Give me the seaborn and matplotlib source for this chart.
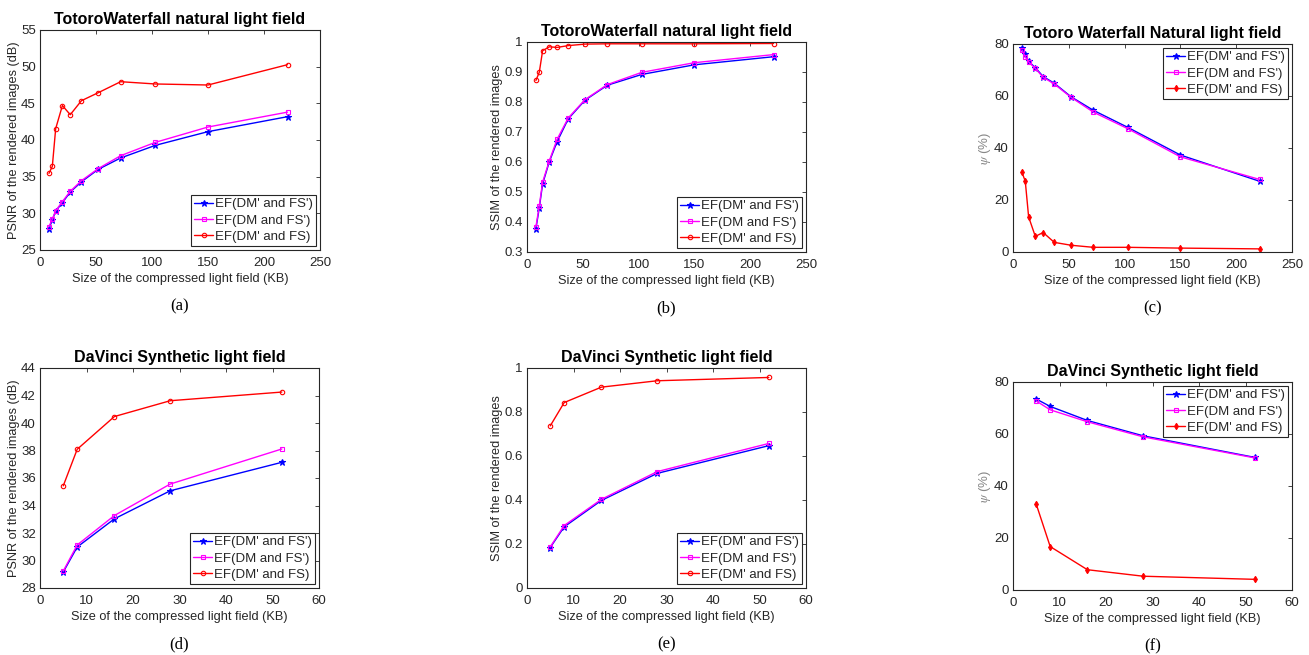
import matplotlib
matplotlib.use("Agg")
import matplotlib.pyplot as plt
import seaborn as sns
import pandas as pd

# ---------------- data ----------------
x_totoro = [8, 11, 14, 20, 27, 37, 52, 72, 103, 150, 221]
x_davinci = [5, 8, 16, 28, 52]

series_names = ["EF(DM' and FS')", "EF(DM and FS')", "EF(DM' and FS)"]

psnr_totoro_blue = [27.9, 29.1, 30.3, 31.45, 32.9, 34.3, 36.0, 37.55, 39.27, 41.14, 43.18]
psnr_totoro_mag = [28.2, 29.2, 30.35, 31.6, 33.0, 34.45, 36.1, 37.86, 39.68, 41.77, 43.8]
psnr_totoro_red = [35.45, 36.4, 41.55, 44.7, 43.45, 45.36, 46.45, 47.95, 47.64, 47.5, 50.27]

ssim_totoro_blue = [0.378, 0.447, 0.527, 0.601, 0.668, 0.744, 0.806, 0.856, 0.892, 0.924, 0.951]
ssim_totoro_mag = [0.384, 0.454, 0.533, 0.604, 0.676, 0.747, 0.808, 0.858, 0.899, 0.931, 0.958]
ssim_totoro_red = [0.872, 0.899, 0.971, 0.984, 0.982, 0.988, 0.993, 0.994, 0.994, 0.994, 0.995]

psi_totoro_blue = [78.5, 76.0, 73.3, 70.9, 67.5, 64.9, 59.7, 54.5, 47.9, 37.3, 27.2]
psi_totoro_mag = [77.7, 75.1, 73.1, 70.6, 67.2, 64.6, 59.5, 53.8, 47.4, 36.6, 27.9]
psi_totoro_red = [30.7, 27.2, 13.5, 6.0, 7.5, 3.7, 2.6, 1.8, 1.8, 1.5, 1.2]

psnr_davinci_blue = [29.16, 30.98, 33.03, 35.07, 37.14]
psnr_davinci_mag = [29.23, 31.13, 33.27, 35.56, 38.11]
psnr_davinci_red = [35.43, 38.09, 40.47, 41.62, 42.25]

ssim_davinci_blue = [0.184, 0.278, 0.398, 0.521, 0.647]
ssim_davinci_mag = [0.187, 0.284, 0.403, 0.529, 0.657]
ssim_davinci_red = [0.737, 0.843, 0.913, 0.942, 0.957]

psi_davinci_blue = [73.45, 70.6, 65.2, 59.3, 51.0]
psi_davinci_mag = [72.7, 69.3, 64.7, 58.9, 50.8]
psi_davinci_red = [33.0, 16.7, 7.8, 5.3, 4.1]

titles = ["TotoroWaterfall natural light field", "TotoroWaterfall natural light field",
          "Totoro Waterfall Natural light field", "DaVinci Synthetic light field",
          "DaVinci Synthetic light field", "DaVinci Synthetic light field"]
captions = ["(a)", "(b)", "(c)", "(d)", "(e)", "(f)"]
xlabel = "Size of the compressed light field (KB)"
ylabels = ["PSNR of the rendered images (dB)", "SSIM of the rendered images", r"$\psi$ (%)"]

# ---------------- style ----------------
sns.set_theme(style="white")
plt.rcParams["font.family"] = ["Liberation Sans", "DejaVu Sans"]
plt.rcParams["mathtext.fontset"] = "stix"

W, H = 1309, 655
fig = plt.figure(figsize=(W / 100, H / 100), dpi=100)

def axes_px(l, t, r, b):
    return fig.add_axes([l / W, 1 - b / H, (r - l) / W, (b - t) / H])

panels = [
    dict(box=(40, 30, 320, 250), x=x_totoro, ys=(psnr_totoro_blue, psnr_totoro_mag, psnr_totoro_red),
         xlim=(0, 250), xt=range(0, 251, 50), ylim=(25, 55), yt=range(25, 56, 5), yl=0, leg="lower right", red="o"),
    dict(box=(527, 42, 806, 252), x=x_totoro, ys=(ssim_totoro_blue, ssim_totoro_mag, ssim_totoro_red),
         xlim=(0, 250), xt=range(0, 251, 50), ylim=(0.3, 1.0), yt=[0.3, 0.4, 0.5, 0.6, 0.7, 0.8, 0.9, 1.0], yl=1, leg="lower right", red="o"),
    dict(box=(1013, 44, 1292, 252), x=x_totoro, ys=(psi_totoro_blue, psi_totoro_mag, psi_totoro_red),
         xlim=(0, 250), xt=range(0, 251, 50), ylim=(0, 80), yt=range(0, 81, 20), yl=2, leg="upper right", red="d"),
    dict(box=(40, 368, 319, 588), x=x_davinci, ys=(psnr_davinci_blue, psnr_davinci_mag, psnr_davinci_red),
         xlim=(0, 60), xt=range(0, 61, 10), ylim=(28, 44), yt=range(28, 45, 2), yl=0, leg="lower right", red="o"),
    dict(box=(527, 368, 806, 588), x=x_davinci, ys=(ssim_davinci_blue, ssim_davinci_mag, ssim_davinci_red),
         xlim=(0, 60), xt=range(0, 61, 10), ylim=(0, 1.0), yt=[0, 0.2, 0.4, 0.6, 0.8, 1.0], yl=1, leg="lower right", red="o"),
    dict(box=(1013, 382, 1292, 590), x=x_davinci, ys=(psi_davinci_blue, psi_davinci_mag, psi_davinci_red),
         xlim=(0, 60), xt=range(0, 61, 10), ylim=(0, 80), yt=range(0, 81, 20), yl=2, leg="upper right", red="d"),
]

colors = ["#0000ff", "#ff00ff", "#ff0000"]
tick_col = "#262626"

for i, p in enumerate(panels):
    ax = axes_px(*p["box"])
    markers = ["*", "s", p["red"]]
    msizes = [4.5, 3, 3.2]
    for name, yv, c, m, ms in zip(series_names, p["ys"], colors, markers, msizes):
        df = pd.DataFrame({"x": p["x"], "y": yv})
        sns.lineplot(data=df, x="x", y="y", ax=ax, color=c, marker=m, markersize=ms,
                     markeredgecolor=c, markerfacecolor="none" if m in ("o", "s") else c,
                     markeredgewidth=0.8, linewidth=1.0, label=name, sort=False)
    ax.set_xlim(*p["xlim"])
    ax.set_ylim(*p["ylim"])
    ax.set_xticks(list(p["xt"]))
    ax.set_yticks(list(p["yt"]))
    ax.set_yticklabels([("%g" % v) for v in p["yt"]])
    ax.tick_params(direction="in", length=3, width=0.6, top=True, right=True,
                   labelsize=9.5, colors=tick_col)
    ax.tick_params(axis="x", pad=5)
    ax.tick_params(axis="y", pad=3)
    for s in ax.spines.values():
        s.set_color("#262626")
        s.set_linewidth(0.8)
    ax.set_xlabel(xlabel, fontsize=9.2, color=tick_col, labelpad=3)
    if p["yl"] == 2:
        ax.set_ylabel(ylabels[2], fontsize=9.5, color="#888888", labelpad=1)
    else:
        ax.set_ylabel(ylabels[p["yl"]], fontsize=9.2, color=tick_col, labelpad=1)
    ax.set_title(titles[i], fontsize=11.5, fontweight="bold", color="black", pad=4)
    leg = ax.legend(loc=p["leg"], fontsize=9.5, frameon=True, fancybox=False,
                    edgecolor="#262626", handlelength=1.4, handletextpad=0.15,
                    borderpad=0.25, labelspacing=0.3, borderaxespad=0.3)
    leg.get_frame().set_linewidth(0.8)
    leg.get_frame().set_alpha(1)
    # caption below axis
    l, t, r, b = p["box"]
    cx = (l + r) / 2
    cy = b + 56
    fig.text(cx / W, 1 - cy / H, captions[i], ha="center", va="center",
             fontsize=12, family="Liberation Serif", color="black")

fig.savefig("out.png", dpi=100)
